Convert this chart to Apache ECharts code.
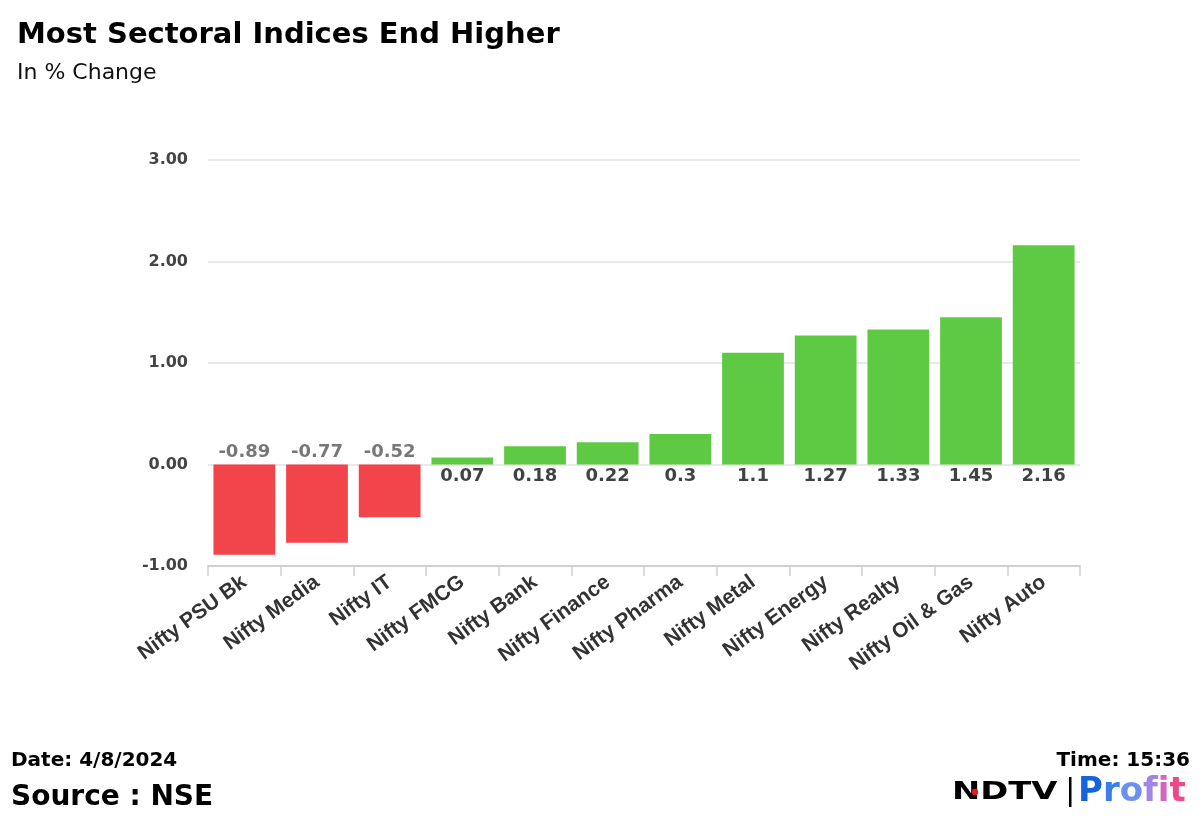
<!DOCTYPE html>
<html>
<head>
<meta charset="utf-8">
<script src="https://cdn.jsdelivr.net/npm/echarts@6/dist/echarts.min.js"></script>
<style>html,body{margin:0;padding:0;background:#fff;}#c{width:1200px;height:831px;}</style>
</head>
<body>
<div id="c"></div>
<script>
const categories = ["Nifty PSU Bk","Nifty Media","Nifty IT","Nifty FMCG","Nifty Bank","Nifty Finance","Nifty Pharma","Nifty Metal","Nifty Energy","Nifty Realty","Nifty Oil & Gas","Nifty Auto"];
const values = [-0.89,-0.77,-0.52,0.07,0.18,0.22,0.3,1.1,1.27,1.33,1.45,2.16];
const yTicks = {min:-1, max:3, interval:1};

const profitLetters = ['P','r','o','f','i','t'];
const profitColors = ['#1466d8','#3a7fe8','#6c90f0','#a184e6','#d466bd','#ee4a8a'];

const richProfit = {};
profitLetters.forEach((l,i)=>{ richProfit['p'+i] = {fill:profitColors[i], fontFamily:'DejaVu Sans', fontWeight:'bold', fontSize:34}; });
const profitText = profitLetters.map((l,i)=>'{p'+i+'|'+l+'}').join('');

const chart = echarts.init(document.getElementById('c'), null, {renderer:'canvas'});
const option = {
  backgroundColor:'#fff',
  animation:false,
  title:[
    {text:'Most Sectoral Indices End Higher', left:12, top:16, textStyle:{fontFamily:'DejaVu Sans', fontWeight:'bold', fontSize:29, color:'#000'}},
    {text:'In % Change', left:12, top:57, textStyle:{fontFamily:'DejaVu Sans', fontWeight:'normal', fontSize:22, color:'#111'}}
  ],
  grid:{left:208, right:120, top:160, bottom:265, containLabel:false},
  xAxis:{
    type:'category', data:categories,
    axisLine:{onZero:false, lineStyle:{color:'#d0d0d0', width:2}},
    axisTick:{show:true, length:10, lineStyle:{color:'#d0d0d0', width:1.5}},
    axisLabel:{rotate:36, interval:0, margin:14, fontFamily:'Liberation Sans', fontWeight:'bold', fontSize:21, color:'#333'}
  },
  yAxis:{
    type:'value', min:yTicks.min, max:yTicks.max, interval:yTicks.interval,
    axisLine:{show:false}, axisTick:{show:false},
    splitLine:{lineStyle:{color:'#e2e2e2', width:1.5}},
    axisLabel:{margin:20, fontFamily:'DejaVu Sans', fontWeight:'bold', fontSize:16, color:'#444', formatter:v=>v.toFixed(2)}
  },
  series:[
    {
      type:'bar', barCategoryGap:'15%',
      data: values.map(v=>({value:v, itemStyle:{color: v<0 ? '#F2444B' : '#5ECA43'}})),
      label:{show:false}
    },
    {
      type:'scatter', symbolSize:0, silent:true, z:5,
      data: values.map((v,i)=>({value:[i,0], raw:v, label:{position: v<0?'top':'bottom', distance:3, color: v<0?'#555':'#111'}})),
      label:{show:true, fontFamily:'DejaVu Sans', fontWeight:'bold', fontSize:18, formatter:p=>String(p.data.raw)}
    }
  ],
  graphic:[
    {type:'text', left:11, top:751, style:{text:'Date: 4/8/2024', fontFamily:'DejaVu Sans', fontWeight:'bold', fontSize:20, fill:'#000'}},
    {type:'text', left:11, top:784, style:{text:'Source : NSE', fontFamily:'DejaVu Sans', fontWeight:'bold', fontSize:28, fill:'#000'}},
    {type:'text', right:10, top:751, style:{text:'Time: 15:36', fontFamily:'DejaVu Sans', fontWeight:'bold', fontSize:20, fill:'#000'}},
    {type:'text', x:952, y:780, scaleX:1.35, style:{text:'NDTV', x:0, y:0, fontFamily:'DejaVu Sans', fontWeight:'bold', fontSize:25, fill:'#000', textVerticalAlign:'top'}},
    {type:'circle', shape:{cx:975, cy:792, r:3.2}, style:{fill:'#e21b22'}, z:10},
    {type:'rect', shape:{x:1069, y:777, width:2.5, height:30}, style:{fill:'#000'}},
    {type:'text', x:1078, y:775, style:{text:profitText, rich:richProfit, x:0, y:0, textVerticalAlign:'top'}}
  ]
};
chart.setOption(option);
</script>
</body>
</html>
